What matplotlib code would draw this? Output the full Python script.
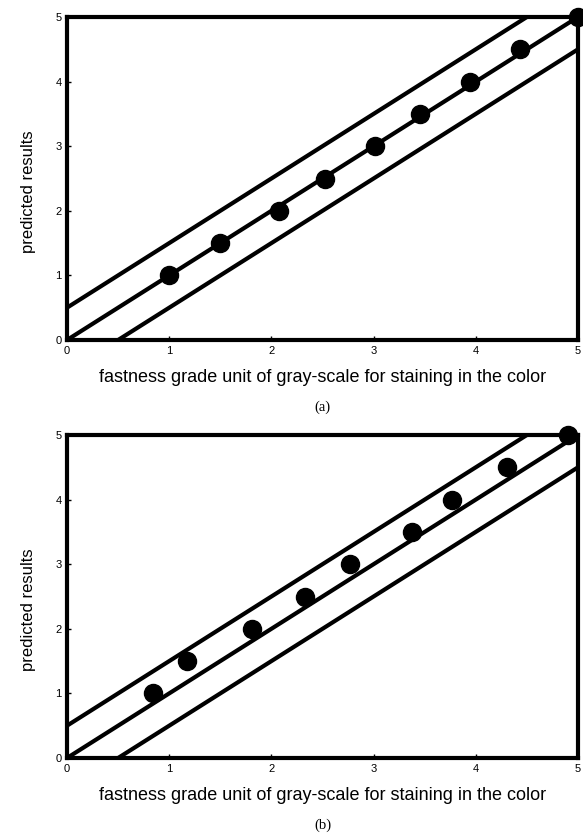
import matplotlib
matplotlib.use("Agg")
import matplotlib.pyplot as plt
import numpy as np

plt.rcParams['font.family'] = ['Liberation Sans', 'DejaVu Sans']

# Data
xa = [1.0, 1.5, 2.07, 2.52, 3.01, 3.45, 3.94, 4.43, 5.0]
ya = [1.0, 1.5, 2.0, 2.5, 3.0, 3.5, 4.0, 4.5, 5.0]
xb = [0.84, 1.17, 1.81, 2.33, 2.77, 3.38, 3.77, 4.31, 4.9]
yb = [1.0, 1.5, 2.0, 2.5, 3.0, 3.5, 4.0, 4.5, 5.0]
band_offsets = [0.5, 0.0, -0.5]
ticks = [0, 1, 2, 3, 4, 5]
xlabel = "fastness grade unit of gray-scale for staining in the color"
ylabel = "predicted results"
panel_labels = ["(a)", "(b)"]

fig = plt.figure(figsize=(5.83, 8.34), dpi=100)
W, H = 583, 834
boxes = [(67, 17, 578, 340), (67, 435, 578, 758)]
datasets = [(xa, ya), (xb, yb)]

for (l, t, r, b), (xs, ys), lab in zip(boxes, datasets, panel_labels):
    ax = fig.add_axes([l / W, 1 - b / H, (r - l) / W, (b - t) / H])
    line_x = np.array([0, 5])
    for off in band_offsets:
        ax.plot(line_x, line_x + off, color='black', lw=3.0, solid_capstyle='butt')
    ax.plot(xs, ys, 'o', color='black', markersize=13, clip_on=False, zorder=5)
    ax.set_xlim(0, 5)
    ax.set_ylim(0, 5)
    ax.set_xticks(ticks)
    ax.set_yticks(ticks)
    ax.tick_params(direction='in', length=3, width=1, labelsize=8, pad=4)
    for s in ax.spines.values():
        s.set_linewidth(3)
    ax.set_ylabel(ylabel, fontsize=12)
    ax.yaxis.set_label_coords(-0.06, 0.46)
    ax.set_xlabel(xlabel, fontsize=13)
    ax.xaxis.set_label_coords(0.5, -0.09)
    ax.text(0.5, -0.207, lab, transform=ax.transAxes, ha='center', va='center',
            fontsize=10.5, family='Liberation Serif')

fig.savefig("out.png", dpi=100)
